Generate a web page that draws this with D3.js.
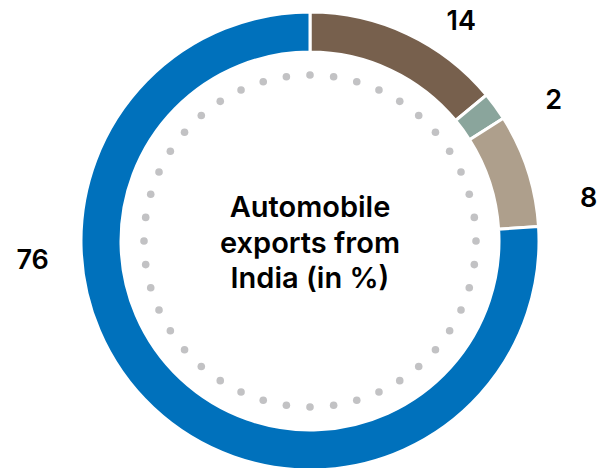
<!DOCTYPE html>
<html>
<head>
<meta charset="utf-8">
<script src="https://d3js.org/d3.v7.min.js"></script>
<style>
body { margin: 0; background: #ffffff; }
text { font-family: Inter, "Noto Sans", sans-serif; font-weight: 600; fill: #000000; }
</style>
</head>
<body>
<div id="chart"></div>
<script>
// data
var categories = ["A", "B", "C", "D"];
var shares = [14, 2, 8, 76];
var colours = ["#77604d", "#8aa59c", "#ae9f8c", "#0071bc"];
var titleLines = ["Automobile", "exports from", "India (in %)"];

var width = 607, height = 468;
var cx = 310, cy = 241;
var outerR = 229, innerR = 189;
var dotR = 166, dotCount = 44;

// label anchors (degrees clockwise from top, distance from centre)
var labelPos = [[34.5, 267], [59.8, 282], [81.2, 282], [266.2, 278]];

var svg = d3.select("#chart").append("svg")
  .attr("width", width)
  .attr("height", height);

var g = svg.append("g").attr("transform", "translate(" + cx + "," + cy + ")");

var pie = d3.pie().sort(null).value(function(d) { return d; });
var arc = d3.arc().innerRadius(innerR).outerRadius(outerR);

g.selectAll("path.slice")
  .data(pie(shares))
  .enter().append("path")
  .attr("class", "slice")
  .attr("d", arc)
  .attr("fill", function(d, i) { return colours[i]; })
  .attr("stroke", "#ffffff")
  .attr("stroke-width", 3);

// dotted ring
var dots = d3.range(dotCount);
g.selectAll("circle.dot")
  .data(dots)
  .enter().append("circle")
  .attr("class", "dot")
  .attr("cx", function(d) { return dotR * Math.sin(2 * Math.PI * d / dotCount); })
  .attr("cy", function(d) { return -dotR * Math.cos(2 * Math.PI * d / dotCount); })
  .attr("r", 3.8)
  .attr("fill", "#c2c2c4");

// value labels
g.selectAll("text.val")
  .data(shares)
  .enter().append("text")
  .attr("class", "val")
  .attr("x", function(d, i) { return labelPos[i][1] * Math.sin(labelPos[i][0] * Math.PI / 180); })
  .attr("y", function(d, i) { return -labelPos[i][1] * Math.cos(labelPos[i][0] * Math.PI / 180); })
  .attr("text-anchor", "middle")
  .attr("dominant-baseline", "central")
  .style("font-size", "27px")
  .text(function(d) { return d; });

// centre title
g.selectAll("text.title")
  .data(titleLines)
  .enter().append("text")
  .attr("class", "title")
  .attr("x", 0)
  .attr("y", function(d, i) { return -24 + i * 35.5; })
  .attr("text-anchor", "middle")
  .style("font-size", "29px")
  .text(function(d) { return d; });
</script>
</body>
</html>
